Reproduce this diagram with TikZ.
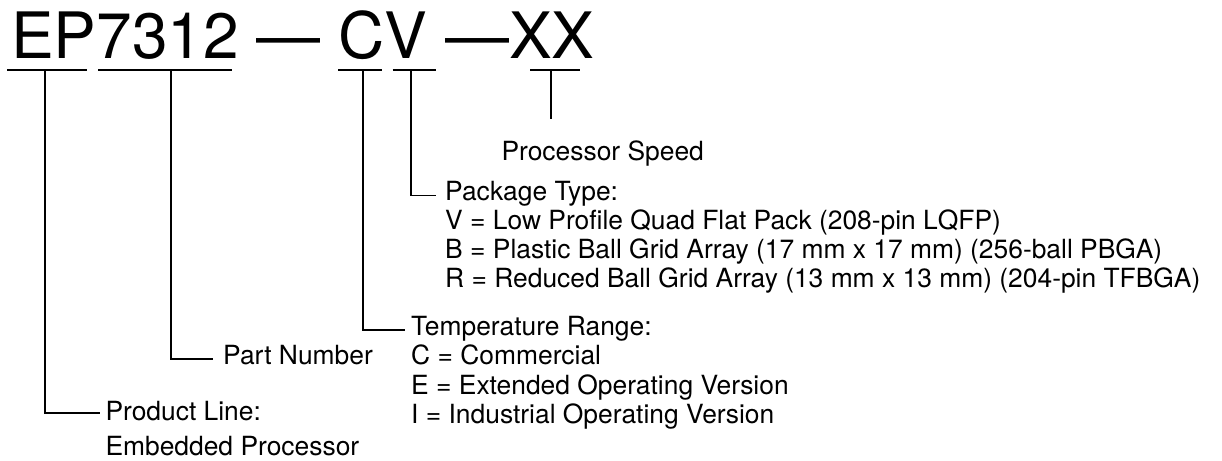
\documentclass[tikz,border=0pt]{standalone}
\usepackage{fontspec}
\setmainfont{TeX Gyre Heros}
\newcommand{\codefont}{\fontsize{64}{70}\selectfont}
\newcommand{\lblfont}{\fontsize{26.4}{29.3}\selectfont}

\begin{document}
\begin{tikzpicture}[x=1pt,y=-1pt,
    code/.style={font=\codefont,inner sep=0pt,anchor=base west},
    lbl/.style={font=\lblfont,inner sep=0pt,anchor=base west},
    leader/.style={line width=1.8pt}]
  \useasboundingbox (0,0) rectangle (1222,460);

  \node[code] (code) at (11,58.3) {EP7312 — CV —XX};

  \foreach \l/\r/\m/\nm in {7.3/87.3/45/ep, 98.3/231.7/171/part,
      338/381.7/363/temp, 392.7/435.7/411/pkg, 530/580/550.7/speed}{
    \draw [leader] (\l,70.3) -- (\r,70.3);
    \coordinate (\nm-top) at (\m,70.3);
  };

  \node[lbl] (speed) at (501.3,160) {Processor Speed};
  \coordinate (speed-end) at (550.7,119.3);

  \foreach \txt [count=\i] in {{Package Type:},
      {V = Low Profile Quad Flat Pack (208-pin LQFP)},
      {B = Plastic Ball Grid Array (17 mm x 17 mm) (256-ball PBGA)},
      {R = Reduced Ball Grid Array (13 mm x 13 mm) (204-pin TFBGA)}}{
    \node[lbl] (pkg-\i) at (445,{200+29.3*(\i-1)}) {\txt};
  };

  \foreach \txt [count=\i] in {{Temperature Range:}, {C = Commercial},
      {E = Extended Operating Version}, {I = Industrial Operating Version}}{
    \node[lbl] (temp-\i) at (411,{335.5+29.3*(\i-1)}) {\txt};
  };

  \node[lbl] (part) at (223,364.8) {Part Number};
  \node[lbl] (prod-1) at (105.3,420) {Product Line:};
  \node[lbl] (prod-2) at (105.3,455) {Embedded Processor};

  \draw [leader] (speed-top) -- (speed-end);
  \draw [leader] (pkg-top) |- ([xshift=-9.3pt,yshift=4.5pt]pkg-1.base west);
  \draw [leader] (temp-top) |- ([xshift=-6pt,yshift=5.5pt]temp-1.base west);
  \draw [leader] (part-top) |- ([xshift=-9.7pt,yshift=5.8pt]part.base west);
  \draw [leader] (ep-top) |- ([xshift=-5.3pt,yshift=7pt]prod-1.base west);
\end{tikzpicture}
\end{document}
